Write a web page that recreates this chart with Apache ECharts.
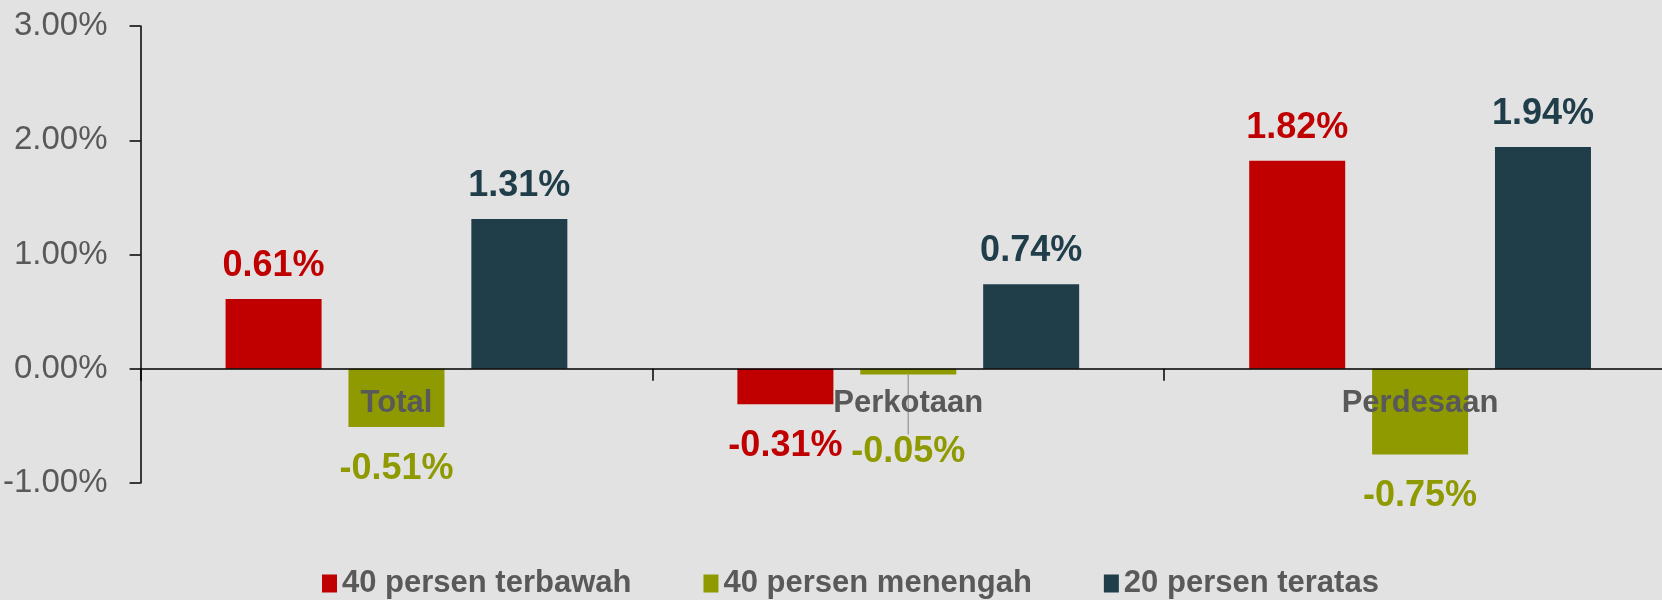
<!DOCTYPE html>
<html>
<head>
<meta charset="utf-8">
<script src="https://cdn.jsdelivr.net/npm/echarts@6/dist/echarts.min.js"></script>
<style>
html,body{margin:0;padding:0;background:#E2E2E2;overflow:hidden;}
#chart{width:1676px;height:600px;}
</style>
</head>
<body>
<div id="chart"></div>
<script>
const categories = ['Total', 'Perkotaan', 'Perdesaan'];
const seriesNames = ['40 persen terbawah', '40 persen menengah', '20 persen teratas'];
const bottom40 = [0.61, -0.31, 1.82];
const middle40 = [-0.51, -0.05, -0.75];
const top20 = [1.31, 0.74, 1.94];
const yTicks = [-1, 0, 1, 2, 3];

const FONT = '"Liberation Sans", Arial, sans-serif';
const colors = ['#C00000', '#8E9A00', '#203E4A'];

function mkSeries(name, values, color, idx) {
  return {
    name: name,
    type: 'bar',
    data: values.map((v, i) => {
      const item = { value: v, label: { distance: v < 0 ? 24 : 15 } };
      if (idx === 1 && i === 1) item.labelLine = { show: true };
      return item;
    }),
    barWidth: 96,
    barGap: '28%',
    itemStyle: { color: color },
    label: {
      show: true,
      position: 'outside',
      formatter: p => p.value.toFixed(2) + '%',
      color: color,
      fontFamily: FONT,
      fontWeight: 'bold',
      fontSize: 36
    },
    labelLayout: function (p) {
      if (idx === 1 && p.dataIndex === 1) return { dy: 36 };
      return {};
    },
    labelLine: { show: false, length2: 0, lineStyle: { color: '#A0A0A0', width: 1.5 } }
  };
}

const chart = echarts.init(document.getElementById('chart'));
chart.setOption({
  backgroundColor: '#E2E2E2',
  animation: false,
  grid: { left: 140, top: 26, bottom: 117, right: 0, containLabel: false },
  legend: {
    top: 568,
    left: 322,
    padding: 0,
    itemWidth: 15,
    itemHeight: 18,
    itemGap: 72,
    icon: 'rect',
    textStyle: { fontFamily: FONT, fontWeight: 'bold', fontSize: 31, color: '#595959' },
    data: seriesNames
  },
  xAxis: {
    type: 'category',
    data: categories,
    z: 10,
    axisLine: { onZero: true, lineStyle: { color: '#000', width: 1.5 } },
    axisTick: { show: true, length: 12, lineStyle: { color: '#000', width: 1.5 } },
    axisLabel: { fontFamily: FONT, fontWeight: 'bold', fontSize: 31, color: '#595959', margin: -95 }
  },
  yAxis: {
    type: 'value',
    min: -1, max: 3, interval: 1,
    axisLine: { show: true, lineStyle: { color: '#000', width: 1.5 } },
    axisTick: { show: true, length: 11, lineStyle: { color: '#000', width: 1.5 } },
    splitLine: { show: false },
    axisLabel: {
      fontFamily: FONT, fontSize: 33, color: '#595959', margin: 33,
      formatter: v => yTicks.includes(v) ? v.toFixed(2) + '%' : ''
    }
  },
  series: [
    mkSeries(seriesNames[0], bottom40, colors[0], 0),
    mkSeries(seriesNames[1], middle40, colors[1], 1),
    mkSeries(seriesNames[2], top20, colors[2], 2)
  ]
});
</script>
</body>
</html>
